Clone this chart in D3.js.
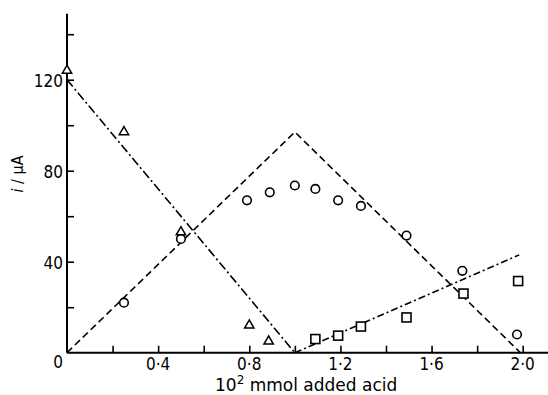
<!DOCTYPE html>
<html>
<head>
<meta charset="utf-8">
<script src="https://cdn.jsdelivr.net/npm/d3@7"></script>
<style>
  body { margin: 0; background: #fff; }
  svg { display: block; font-family: "DejaVu Sans Condensed", "DejaVu Sans", sans-serif; }
</style>
</head>
<body>
<div id="chart"></div>
<script>
// Data
var triX = [0, 0.25, 0.5, 0.80, 0.885];
var triY = [124, 97, 53, 12, 5];
var circX = [0.25, 0.5, 0.79, 0.89, 1.0, 1.09, 1.19, 1.29, 1.49, 1.735, 1.975];
var circY = [22, 50, 67, 70.5, 73.5, 72, 67, 64.5, 51.5, 36, 8];
var sqX = [1.09, 1.19, 1.29, 1.49, 1.74, 1.98];
var sqY = [6, 7.5, 11.5, 15.5, 26, 31.5];
// theoretical lines
var lineTriX = [0, 1.0], lineTriY = [120, 0];
var lineCircX = [0, 1.0, 1.99], lineCircY = [0, 97, 0];
var lineSqX = [1.0, 1.985], lineSqY = [0, 43];
var xTicks = [0.2, 0.4, 0.6, 0.8, 1.0, 1.2, 1.4, 1.6, 1.8, 2.0];
var xLabels = ["0·4", "0·8", "1·2", "1·6", "2·0"];
var xLabelVals = [0.4, 0.8, 1.2, 1.6, 2.0];
var yTicks = [20, 40, 60, 80, 100, 120, 140];
var yLabelVals = [40, 80, 120];

var w = 548, h = 395;
var svg = d3.select("#chart").append("svg").attr("width", w).attr("height", h);

var x = d3.scaleLinear().domain([0, 2.0]).range([67, 522.7]);
var y = d3.scaleLinear().domain([0, 140]).range([352.7, 34.2]);

// Axis lines (extend beyond last tick)
svg.append("line")
  .attr("x1", x(0)).attr("x2", x(2.12))
  .attr("y1", y(0)).attr("y2", y(0))
  .attr("stroke", "#000").attr("stroke-width", 2);
svg.append("line")
  .attr("x1", x(0)).attr("x2", x(0))
  .attr("y1", y(0)).attr("y2", y(149))
  .attr("stroke", "#000").attr("stroke-width", 2);

// X axis ticks (pointing up)
var xAxis = d3.axisTop(x).tickValues(xTicks).tickSize(7).tickFormat("");
var gx = svg.append("g").attr("transform", "translate(0," + y(0) + ")").call(xAxis);
gx.select(".domain").remove();
gx.selectAll("line").attr("stroke-width", 1.6);

// Y axis ticks (pointing right)
var yAxis = d3.axisRight(y).tickValues(yTicks).tickSize(7).tickFormat("");
var gy = svg.append("g").attr("transform", "translate(" + x(0) + ",0)").call(yAxis);
gy.select(".domain").remove();
gy.selectAll("line").attr("stroke-width", 1.6);

// Tick labels
svg.selectAll(".xl").data(xLabelVals).enter().append("text")
  .attr("x", function(d) { return x(d); })
  .attr("y", 370)
  .attr("text-anchor", "middle")
  .attr("font-size", "17px")
  .text(function(d, i) { return xLabels[i]; });

svg.selectAll(".yl").data(yLabelVals).enter().append("text")
  .attr("x", x(0) - 4)
  .attr("y", function(d) { return y(d) + 7; })
  .attr("text-anchor", "end")
  .attr("font-size", "17px")
  .text(function(d) { return d; });

svg.append("text")
  .attr("x", x(0) - 4).attr("y", 368)
  .attr("text-anchor", "end")
  .attr("font-size", "17px")
  .text("0");

// Axis titles
var xt = svg.append("text")
  .attr("x", 215).attr("y", 391)
  .attr("font-family", "DejaVu Sans")
  .attr("font-size", "17px");
xt.append("tspan").text("10");
xt.append("tspan").attr("dy", -7).attr("font-size", "12px").text("2");
xt.append("tspan").attr("dy", 7).text(" mmol added acid");

var yt = svg.append("text")
  .attr("transform", "translate(23,174) rotate(-90)")
  .attr("text-anchor", "middle")
  .attr("font-size", "16px");
yt.append("tspan").attr("font-style", "italic").text("i");
yt.append("tspan").text(" / μA");

// Lines
function pts(xs, ys) { return xs.map(function(d, i) { return [d, ys[i]]; }); }
var line = d3.line().x(function(d) { return x(d[0]); }).y(function(d) { return y(d[1]); });

svg.append("path").datum(pts(lineTriX, lineTriY)).attr("d", line)
  .attr("fill", "none").attr("stroke", "#000").attr("stroke-width", 1.6)
  .attr("stroke-dasharray", "9,3,2,3");
svg.append("path").datum(pts(lineCircX, lineCircY)).attr("d", line)
  .attr("fill", "none").attr("stroke", "#000").attr("stroke-width", 1.6)
  .attr("stroke-dasharray", "7,4");
svg.append("path").datum(pts(lineSqX, lineSqY)).attr("d", line)
  .attr("fill", "none").attr("stroke", "#000").attr("stroke-width", 1.6)
  .attr("stroke-dasharray", "7,3,2,3");

// Markers
svg.selectAll(".circ").data(pts(circX, circY)).enter().append("circle")
  .attr("cx", function(d) { return x(d[0]); })
  .attr("cy", function(d) { return y(d[1]); })
  .attr("r", 4.3)
  .attr("fill", "#fff").attr("stroke", "#000").attr("stroke-width", 1.6);

var tri = d3.symbol().type(d3.symbolTriangle).size(38);
svg.selectAll(".tri").data(pts(triX, triY)).enter().append("path")
  .attr("d", tri)
  .attr("transform", function(d) { return "translate(" + x(d[0]) + "," + y(d[1]) + ")"; })
  .attr("fill", "#fff").attr("stroke", "#000").attr("stroke-width", 1.5);

svg.selectAll(".sq").data(pts(sqX, sqY)).enter().append("rect")
  .attr("x", function(d) { return x(d[0]) - 4.5; })
  .attr("y", function(d) { return y(d[1]) - 4.5; })
  .attr("width", 9).attr("height", 9)
  .attr("fill", "#fff").attr("stroke", "#000").attr("stroke-width", 1.6);
</script>
</body>
</html>
